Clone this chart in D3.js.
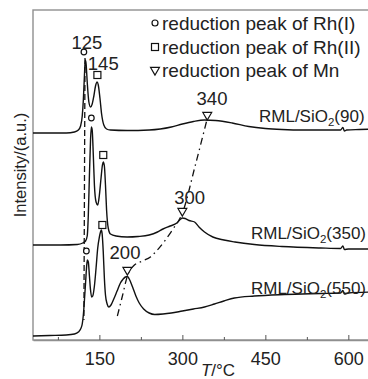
<!DOCTYPE html>
<html>
<head>
<meta charset="utf-8">
<script src="https://cdn.jsdelivr.net/npm/d3@7"></script>
<style>
  body { margin: 0; background: #fff; }
  svg { display: block; font-family: "Liberation Sans", Arial, sans-serif; }
</style>
</head>
<body>
<svg id="chart"></svg>
<script>
// temperatures (°C) and intensities (a.u., offset stacked)
const t90 = [30, 60, 90, 105, 112, 116, 119, 121, 123, 124.5, 126, 128, 131, 134, 137, 140, 143, 146, 148, 151, 154, 158, 163, 170, 200, 240, 260, 280, 300, 320, 340, 360, 390, 420, 450, 480, 520, 560, 586, 590, 593, 597, 620, 650];
const i90 = [207, 207, 207, 208, 210, 214, 224, 240, 265, 280, 276, 258, 238, 233, 236, 244, 254, 258, 255, 242, 226, 215, 211, 210, 209.5, 210, 211, 213, 216, 218.5, 220, 219.5, 217, 213.5, 211.5, 210.5, 210, 210, 210, 212.5, 209, 210, 210.5, 211];

const t350 = [30, 80, 110, 120, 125, 128, 130, 132, 134, 135.5, 137, 139, 141, 144, 147, 150, 153, 155.5, 157, 159, 161, 163, 166, 170, 180, 200, 220, 240, 255, 265, 278, 290, 297, 300, 305, 312, 322, 330, 340, 355, 375, 395, 430, 480, 550, 586, 590, 593, 600, 650];
const i350 = [95, 95, 95.5, 97, 99, 104, 125, 165, 200, 213, 210, 185, 155, 138, 135, 145, 162, 175, 178, 174, 155, 130, 112, 106, 104, 103, 103.5, 105, 108, 111, 114, 117, 121, 122, 121.5, 119.5, 118, 113, 108, 103, 100, 98, 95.5, 93.5, 92, 91.5, 94, 90.5, 91, 91];

const t550 = [30, 60, 90, 105, 112, 116, 119, 121, 123, 125, 127, 128.3, 130, 132, 134, 136, 138, 141, 144, 147, 150, 152, 153.6, 155, 157, 159, 161, 164, 167, 171, 176, 182, 188, 193, 197, 200.6, 204, 210, 216, 222, 230, 240, 250, 265, 280, 300, 320, 340, 358, 375, 394, 430, 484, 550, 586, 590, 593, 600, 650];
const i550 = [4, 4.5, 5, 6, 8, 11, 16, 25, 40, 57, 74, 80, 78, 64, 50, 43, 44, 54, 72, 92, 103, 108, 110, 106, 88, 62, 45, 36, 33, 35, 41, 49, 57, 61, 63, 63.5, 61, 53, 44, 37, 31, 27, 25.5, 26, 27, 29, 31, 33, 36, 39, 42, 44, 45.5, 46.5, 47, 49.5, 46, 47, 48];

const seriesNames = ["RML/SiO(90)", "RML/SiO(350)", "RML/SiO(550)"];
const curveLabelPos = [[438.5, 218.5], [424, 101.5], [424, 46.5]];

const xTicks = [150, 300, 450, 600];
const xMinorTicks = [75, 225, 375, 525];

// peak markers [T, intensity]
const rh1Marks = [[122, 288], [135.5, 222], [126.5, 89]];
const rh2Marks = [[146.4, 265], [157, 185], [155.4, 115]];
const mnMarks = [[345, 225], [300, 129], [200.6, 70]];

// peak annotations [label, T, intensity(baseline)]
const peakLabels = [["125", 127.6, 291.5], ["145", 157, 270.5], ["340", 353.6, 235.5], ["300", 313, 136.5], ["200", 196.3, 81.5]];

// guide lines
const rh1Guide = [[124, 282], [122, 20]];
const mnGuide = [[182.5, 24], [191.6, 44], [200.6, 64], [211.5, 74], [227.7, 79], [242.2, 83], [254.8, 90], [269.3, 100], [281.9, 110], [300, 127], [323.5, 175], [345.2, 222]];

const legendItems = ["reduction peak of Rh(I)", "reduction peak of Rh(II)", "reduction peak of Mn"];

const width = 368, height = 379;
const svg = d3.select("#chart").attr("width", width).attr("height", height);

const x = d3.scaleLinear().domain([30, 650]).range([33, 376]);
const y = d3.scaleLinear().domain([0, 330]).range([340, 10]);

const frameColor = "#8f8f8f";

// frame
svg.append("rect")
  .attr("x", x(30)).attr("y", y(330))
  .attr("width", x(650) - x(30)).attr("height", y(0) - y(330))
  .attr("fill", "none").attr("stroke", frameColor).attr("stroke-width", 1.4);

// x axis
const xAxis = svg.append("g")
  .attr("transform", "translate(0," + y(0) + ")")
  .call(d3.axisBottom(x).tickValues(xTicks).tickSize(-5).tickSizeOuter(0).tickPadding(12));
xAxis.select(".domain").attr("stroke", frameColor).attr("stroke-width", 1.4);
xAxis.selectAll(".tick line").attr("stroke", "#555").attr("stroke-width", 1);
xAxis.selectAll(".tick text").attr("font-size", 18).attr("fill", "#222")
  .attr("font-family", "Liberation Sans, Arial, sans-serif");

const xMinor = svg.append("g")
  .attr("transform", "translate(0," + y(0) + ")")
  .call(d3.axisBottom(x).tickValues(xMinorTicks).tickSize(-3).tickSizeOuter(0).tickFormat(""));
xMinor.select(".domain").remove();
xMinor.selectAll(".tick line").attr("stroke", "#555").attr("stroke-width", 1);

// axis titles
const xt = svg.append("text")
  .attr("x", 218).attr("y", 376)
  .attr("text-anchor", "middle").attr("font-size", 17).attr("fill", "#222");
xt.append("tspan").attr("font-style", "italic").text("T");
xt.append("tspan").text("/°C");

svg.append("text")
  .attr("transform", "translate(26,165) rotate(-90)")
  .attr("text-anchor", "middle").attr("font-size", 16.5).attr("fill", "#222")
  .text("Intensity/(a.u.)");

// curves
const line = d3.line().x(d => x(d[0])).y(d => y(d[1])).curve(d3.curveMonotoneX);
const curves = [d3.zip(t90, i90), d3.zip(t350, i350), d3.zip(t550, i550)];
svg.append("g").selectAll("path").data(curves).join("path")
  .attr("d", line)
  .attr("fill", "none").attr("stroke", "#111").attr("stroke-width", 1.4)
  .attr("stroke-linejoin", "round");

// guides
svg.append("path").attr("d", d3.line().x(d => x(d[0])).y(d => y(d[1]))(rh1Guide))
  .attr("fill", "none").attr("stroke", "#111").attr("stroke-width", 1.3)
  .attr("stroke-dasharray", "6,3");
svg.append("path").attr("d", line(mnGuide))
  .attr("fill", "none").attr("stroke", "#111").attr("stroke-width", 1.3)
  .attr("stroke-dasharray", "7,4,1.5,4");

// markers
const mk = svg.append("g").attr("fill", "#fff").attr("stroke", "#111").attr("stroke-width", 1.2);
mk.selectAll("circle").data(rh1Marks).join("circle")
  .attr("cx", d => x(d[0])).attr("cy", d => y(d[1])).attr("r", 2.8);
mk.selectAll("rect").data(rh2Marks).join("rect")
  .attr("x", d => x(d[0]) - 3.5).attr("y", d => y(d[1]) - 3.5).attr("width", 7).attr("height", 7);
const tri = d3.symbol().type(d3.symbolTriangle).size(34);
mk.selectAll("path").data(mnMarks).join("path")
  .attr("d", tri)
  .attr("transform", d => "translate(" + x(d[0]) + "," + y(d[1]) + ") rotate(180)");

// peak labels
svg.append("g").selectAll("text").data(peakLabels).join("text")
  .attr("x", d => x(d[1])).attr("y", d => y(d[2]))
  .attr("text-anchor", "middle").attr("font-size", 18.5).attr("fill", "#222")
  .text(d => d[0]);

// curve labels with subscript 2
seriesNames.forEach((name, k) => {
  const [tx, iy] = curveLabelPos[k];
  const t = svg.append("text").attr("x", x(tx)).attr("y", y(iy))
    .attr("font-size", 17).attr("fill", "#222");
  t.append("tspan").text(name.slice(0, 7));
  t.append("tspan").attr("font-size", 11.5).attr("dy", 4).text("2");
  t.append("tspan").attr("dy", -4).text(name.slice(7));
});

// legend
const lg = svg.append("g");
const lgY = [23, 47, 70];
lgY.forEach((yy, k) => {
  if (k === 0) lg.append("circle").attr("cx", 155).attr("cy", yy).attr("r", 3)
    .attr("fill", "none").attr("stroke", "#111").attr("stroke-width", 1.2);
  if (k === 1) lg.append("rect").attr("x", 151.5).attr("y", yy - 3.5).attr("width", 7).attr("height", 7)
    .attr("fill", "none").attr("stroke", "#111").attr("stroke-width", 1.2);
  if (k === 2) lg.append("path").attr("d", tri).attr("transform", "translate(155," + yy + ") rotate(180)")
    .attr("fill", "none").attr("stroke", "#111").attr("stroke-width", 1.2);
  lg.append("text").attr("x", 162).attr("y", yy + 6.5).attr("font-size", 19).attr("fill", "#222")
    .text(legendItems[k]);
});
</script>
</body>
</html>
